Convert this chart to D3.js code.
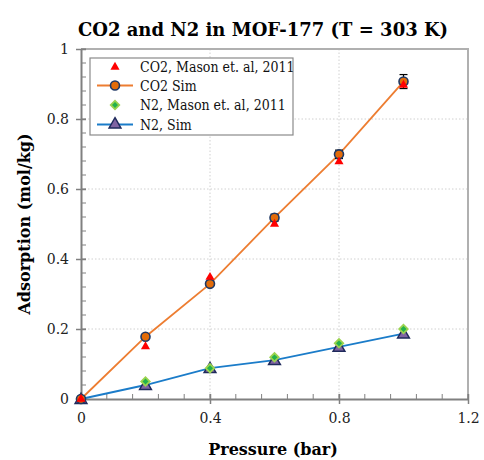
<!DOCTYPE html>
<html>
<head>
<meta charset="utf-8">
<script src="https://cdn.jsdelivr.net/npm/d3@7"></script>
<style>
  body { margin: 0; background: #fff; }
  svg text { font-family: "DejaVu Serif", serif; }
  svg .cond { font-family: "DejaVu Serif Condensed", "DejaVu Serif", serif; }
</style>
</head>
<body>
<div id="chart"></div>
<script>
// data
var pressure = [0, 0.2, 0.4, 0.6, 0.8, 1.0];
var co2Exp = [0, 0.15, 0.348, 0.50, 0.678, 0.897];
var co2Sim = [0, 0.178, 0.329, 0.518, 0.699, 0.907];
var co2Err = [0, 0.005, 0.006, 0.01, 0.012, 0.02];
var n2Exp = [0, 0.05, 0.088, 0.119, 0.159, 0.20];
var n2Sim = [0, 0.04, 0.088, 0.111, 0.149, 0.187];
var xTicks = [0, 0.4, 0.8, 1.2];
var yTicks = [0, 0.2, 0.4, 0.6, 0.8, 1];
var legendLabels = ["CO2, Mason et. al, 2011", "CO2 Sim", "N2, Mason et. al, 2011", "N2, Sim"];

var W = 484, H = 460;
var margin = {top: 49, right: 16, bottom: 61, left: 81},
    width = W - margin.left - margin.right,
    height = H - margin.top - margin.bottom;

var svg = d3.select("#chart").append("svg")
    .attr("width", W)
    .attr("height", H);

var g = svg.append("g")
    .attr("transform", "translate(" + margin.left + "," + margin.top + ")");

var x = d3.scaleLinear().domain([0, 1.2]).range([0, width]);
var y = d3.scaleLinear().domain([0, 1]).range([height, 0]);

// dotted grid
g.selectAll(".gx").data(xTicks.slice(1, -1)).enter().append("line")
    .attr("x1", function(d) { return x(d); }).attr("x2", function(d) { return x(d); })
    .attr("y1", 0).attr("y2", height)
    .style("stroke", "#d0d0d0").style("stroke-dasharray", "1.5,2");
g.selectAll(".gy").data(yTicks.slice(1, -1)).enter().append("line")
    .attr("y1", function(d) { return y(d); }).attr("y2", function(d) { return y(d); })
    .attr("x1", 0).attr("x2", width)
    .style("stroke", "#d0d0d0").style("stroke-dasharray", "1.5,2");

// frame top + right
g.append("path")
    .attr("d", "M0,0H" + width + "V" + height)
    .style("fill", "none").style("stroke", "#b0b0b0").style("stroke-width", 2);

// minor ticks (inside)
g.selectAll(".mx").data(d3.range(0, 16)).enter().append("line")
    .attr("x1", function(i) { return x(i * 0.08); }).attr("x2", function(i) { return x(i * 0.08); })
    .attr("y1", height).attr("y2", height - 5)
    .style("stroke", "#808080");
g.selectAll(".my").data(d3.range(0, 26)).enter().append("line")
    .attr("y1", function(i) { return y(i * 0.04); }).attr("y2", function(i) { return y(i * 0.04); })
    .attr("x1", 0).attr("x2", 5)
    .style("stroke", "#808080");

// axes
var xAxis = d3.axisBottom(x).tickValues(xTicks).tickFormat(d3.format("")).tickSizeInner(5).tickSizeOuter(0);
var yAxis = d3.axisLeft(y).tickValues(yTicks).tickFormat(d3.format("")).tickSizeInner(5).tickSizeOuter(0);

var gx = g.append("g").attr("transform", "translate(0," + height + ")").call(xAxis);
var gy = g.append("g").call(yAxis);
[gx, gy].forEach(function(a) {
  a.attr("font-family", null);
  a.select(".domain").style("stroke", "#808080").style("stroke-width", 2);
  a.selectAll(".tick line").style("stroke", "#808080").style("stroke-width", 1.5);
  a.selectAll("text").style("font-size", "14px").style("fill", "#222");
});
gx.selectAll(".tick line").attr("y1", -5).attr("y2", 5);
gx.selectAll("text").attr("y", 14);
gy.selectAll(".tick line").attr("x1", 5).attr("x2", -5);
gy.selectAll("text").attr("x", -12);

// lines
var simLine = d3.line().x(function(d, i) { return x(pressure[i]); }).y(function(d) { return y(d); });
g.append("path").datum(co2Sim).attr("d", simLine)
    .style("fill", "none").style("stroke", "#ED7D31").style("stroke-width", 1.8);
g.append("path").datum(n2Sim).attr("d", simLine)
    .style("fill", "none").style("stroke", "#1B7CC9").style("stroke-width", 1.8);

var tri = d3.symbol().type(d3.symbolTriangle);
var sq = d3.symbol().type(d3.symbolSquare).size(36);

function redTri(sel) {
  sel.attr("d", tri.size(36)()).style("fill", "#FF0000").style("stroke", "none");
}
function purpleTri(sel) {
  sel.attr("d", tri.size(60)()).style("fill", "#8064A2").style("stroke", "#1F2A5C").style("stroke-width", 1.5);
}
function greenDia(sel) {
  sel.attr("d", sq()).style("fill", "#22B24C").style("stroke", "#9BD34F").style("stroke-width", 1.8);
}
function orangeCirc(sel) {
  sel.attr("r", 4.5).style("fill", "#E36C09").style("stroke", "#1F3864").style("stroke-width", 1.6);
}

// N2 sim triangles
g.selectAll(".n2s").data(n2Sim).enter().append("path")
    .attr("transform", function(d, i) { return "translate(" + x(pressure[i]) + "," + (y(d) + 1) + ")"; })
    .call(purpleTri);
// N2 experiment diamonds
g.selectAll(".n2e").data(n2Exp).enter().append("path")
    .attr("transform", function(d, i) { return "translate(" + x(pressure[i]) + "," + y(d) + ") rotate(45)"; })
    .call(greenDia);

// CO2 error bars
var eb = g.selectAll(".eb").data(co2Sim).enter().append("g");
eb.append("line")
    .attr("x1", function(d, i) { return x(pressure[i]); }).attr("x2", function(d, i) { return x(pressure[i]); })
    .attr("y1", function(d, i) { return y(d + co2Err[i]); }).attr("y2", function(d, i) { return y(d - co2Err[i]); })
    .style("stroke", "#000").style("stroke-width", 1.2);
eb.selectAll("line.cap").data(function(d, i) { return i === 0 ? [] : [[i, d + co2Err[i]], [i, d - co2Err[i]]]; })
  .enter().append("line").attr("class", "cap")
    .attr("x1", function(p) { return x(pressure[p[0]]) - 4; }).attr("x2", function(p) { return x(pressure[p[0]]) + 4; })
    .attr("y1", function(p) { return y(p[1]); }).attr("y2", function(p) { return y(p[1]); })
    .style("stroke", "#000").style("stroke-width", 1.2);

// CO2 sim circles
g.selectAll(".co2s").data(co2Sim).enter().append("circle")
    .attr("cx", function(d, i) { return x(pressure[i]); })
    .attr("cy", function(d) { return y(d); })
    .call(orangeCirc);
// CO2 experiment triangles
g.selectAll(".co2e").data(co2Exp).enter().append("path")
    .attr("transform", function(d, i) { return "translate(" + x(pressure[i]) + "," + y(d) + ")"; })
    .call(redTri);

// legend
var lg = svg.append("g").attr("transform", "translate(90,58)");
lg.append("rect").attr("width", 203).attr("height", 77)
    .style("fill", "#fff").style("stroke", "#8a8a8a").style("stroke-width", 1.2);
var rowY = [9, 27.5, 47, 66.5];
legendLabels.forEach(function(lbl, i) {
  var r = lg.append("g").attr("transform", "translate(0," + rowY[i] + ")");
  if (i === 1) r.append("line").attr("x1", 7).attr("x2", 43).style("stroke", "#ED7D31").style("stroke-width", 2);
  if (i === 3) r.append("line").attr("x1", 7).attr("x2", 43).style("stroke", "#1B7CC9").style("stroke-width", 2);
  if (i === 0) r.append("path").attr("transform", "translate(25,0)").call(redTri);
  if (i === 1) r.append("circle").attr("cx", 25).attr("cy", 0).call(orangeCirc);
  if (i === 2) r.append("path").attr("transform", "translate(25,0) rotate(45)").call(greenDia);
  if (i === 3) r.append("path").attr("transform", "translate(25,0)").call(purpleTri);
  r.append("text").attr("class", "cond").attr("x", 50).attr("y", 5).text(lbl)
    .style("font-size", "14px").style("fill", "#111");
});

// title and axis labels
svg.append("text").attr("x", 263).attr("y", 36).attr("text-anchor", "middle")
    .style("font-size", "18px").style("font-weight", "bold")
    .text("CO2 and N2 in MOF-177 (T = 303 K)");
svg.append("text").attr("x", 273).attr("y", 455).attr("text-anchor", "middle")
    .style("font-size", "16px").style("font-weight", "bold")
    .text("Pressure (bar)");
svg.append("text").attr("transform", "translate(30,224) rotate(-90)").attr("text-anchor", "middle")
    .style("font-size", "16px").style("font-weight", "bold")
    .text("Adsorption (mol/kg)");
</script>
</body>
</html>
